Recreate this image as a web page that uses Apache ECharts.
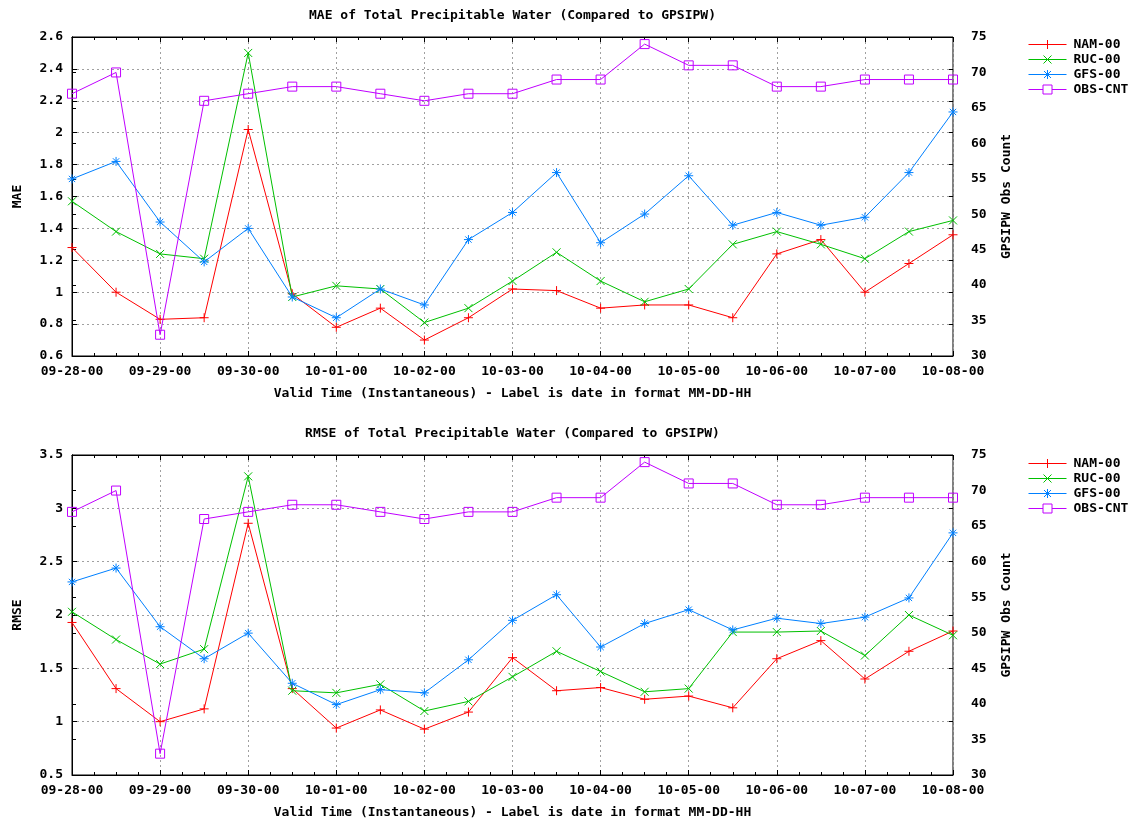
<!DOCTYPE html>
<html><head><meta charset="utf-8">
<script src="https://cdn.jsdelivr.net/npm/echarts@6/dist/echarts.min.js"></script>
<style>html,body{margin:0;padding:0;background:#fff}#c{width:1135px;height:823px}</style>
</head><body><div id="c"></div>
<script>
// ---- data ----
const times = ['09-28-00','09-28-12','09-29-00','09-29-12','09-30-00','09-30-12','10-01-00','10-01-12','10-02-00','10-02-12','10-03-00','10-03-12','10-04-00','10-04-12','10-05-00','10-05-12','10-06-00','10-06-12','10-07-00','10-07-12','10-08-00'];
const dayLabels = ['09-28-00','09-29-00','09-30-00','10-01-00','10-02-00','10-03-00','10-04-00','10-05-00','10-06-00','10-07-00','10-08-00'];
const seriesNames = ['NAM-00','RUC-00','GFS-00','OBS-CNT'];

const maeNAM = [1.28,1.00,0.83,0.84,2.02,0.99,0.78,0.90,0.70,0.84,1.02,1.01,0.90,0.92,0.92,0.84,1.24,1.33,1.00,1.18,1.36];
const maeRUC = [1.57,1.38,1.24,1.21,2.50,0.97,1.04,1.02,0.81,0.90,1.07,1.25,1.07,0.94,1.02,1.30,1.38,1.30,1.21,1.38,1.45];
const maeGFS = [1.71,1.82,1.44,1.19,1.40,0.97,0.84,1.02,0.92,1.33,1.50,1.75,1.31,1.49,1.73,1.42,1.50,1.42,1.47,1.75,2.13];
const obsCnt = [67,70,33,66,67,68,68,67,66,67,67,69,69,74,71,71,68,68,69,69,69];

const rmseNAM = [1.93,1.31,1.00,1.12,2.86,1.31,0.94,1.11,0.93,1.09,1.60,1.29,1.32,1.21,1.24,1.13,1.59,1.76,1.40,1.66,1.85];
const rmseRUC = [2.03,1.77,1.54,1.68,3.30,1.29,1.27,1.35,1.10,1.19,1.42,1.66,1.47,1.28,1.31,1.84,1.84,1.85,1.62,2.00,1.81];
const rmseGFS = [2.31,2.44,1.89,1.59,1.83,1.36,1.16,1.30,1.27,1.58,1.95,2.19,1.70,1.92,2.05,1.86,1.97,1.92,1.98,2.16,2.77];

const maeTitle = 'MAE of Total Precipitable Water (Compared to GPSIPW)';
const rmseTitle = 'RMSE of Total Precipitable Water (Compared to GPSIPW)';
const xName = 'Valid Time (Instantaneous) - Label is date in format MM-DD-HH';
const y2Name = 'GPSIPW Obs Count';

// ---- styles ----
const FONT = 'DejaVu Sans Mono';
const TXT = {fontFamily: FONT, fontWeight: 'bold', fontSize: 13, color: '#000'};
const colors = ['#ff0000', '#00c000', '#0080ff', '#c000ff'];
const symbols = [
  'path://M0,5L10,5M5,0L5,10',
  'path://M0,0L10,10M10,0L0,10',
  'path://M0,5L10,5M5,0L5,10M1.5,1.5L8.5,8.5M8.5,1.5L1.5,8.5',
  'path://M0,0L10,0L10,10L0,10Z'
];
const symSizes = [9, 8, 9, 9];
// legend samples: line with the marker at its middle (box 38 x 10)
const legendIcons = [
  'path://M0,5L38,5M19,0.5L19,9.5',
  'path://M0,5L38,5M15,1L23,9M23,1L15,9',
  'path://M0,5L38,5M19,0.5L19,9.5M15.5,1.5L22.5,8.5M22.5,1.5L15.5,8.5',
  'path://M0,5L14.5,5M23.5,5L38,5M14.5,0.5L23.5,0.5L23.5,9.5L14.5,9.5Z'
];

const panels = [
  {top: 37, height: 319, title: maeTitle, titleY: 15, yName: 'MAE', ymin: 0.6, ymax: 2.6, yint: 0.2, vals: [maeNAM, maeRUC, maeGFS], legTop: 38},
  {top: 455, height: 320, title: rmseTitle, titleY: 433, yName: 'RMSE', ymin: 0.5, ymax: 3.5, yint: 0.5, vals: [rmseNAM, rmseRUC, rmseGFS], legTop: 457}
];
const GL = 72, GW = 881;

const grid = [], xAxis = [], yAxis = [], series = [], legend = [], graphic = [];
const gridLine = {show: true, lineStyle: {color: '#a0a0a0', type: [2, 3], width: 1}};

panels.forEach((p, k) => {
  grid.push({left: GL, top: p.top, width: GW, height: p.height, containLabel: false, outerBoundsMode: 'none',
    show: true, borderColor: '#000', borderWidth: 1, backgroundColor: 'transparent'});
  const xBase = {type: 'value', gridIndex: k, min: 0, max: times.length - 1, interval: 2,
    axisLine: {show: true, lineStyle: {color: '#000', width: 1}},
    axisTick: {show: true, inside: true, length: 5, lineStyle: {color: '#000'}},
    minorTick: {show: true, splitNumber: 4, length: 3, lineStyle: {color: '#000'}},
    minorSplitLine: {show: false}};
  xAxis.push(Object.assign({}, xBase, {position: 'bottom',
    axisLabel: Object.assign({margin: 9, formatter: v => dayLabels[Math.round(v / 2)]}, TXT),
    splitLine: gridLine,
    name: xName, nameLocation: 'middle', nameGap: 31, nameTextStyle: TXT}));
  xAxis.push(Object.assign({}, xBase, {position: 'top', axisLabel: {show: false}, splitLine: {show: false}}));

  yAxis.push({type: 'value', gridIndex: k, position: 'left', min: p.ymin, max: p.ymax, interval: p.yint,
    axisLine: {show: true, lineStyle: {color: '#000'}},
    axisTick: {show: true, inside: true, length: 5, lineStyle: {color: '#000'}},
    axisLabel: Object.assign({margin: 9}, TXT),
    splitLine: gridLine,
    name: p.yName, nameLocation: 'middle', nameGap: 48, nameRotate: 90, nameTextStyle: TXT});
  yAxis.push({type: 'value', gridIndex: k, position: 'right', min: 30, max: 75, interval: 5,
    axisLine: {show: true, lineStyle: {color: '#000'}},
    axisTick: {show: true, inside: false, length: 4, lineStyle: {color: '#000'}},
    axisLabel: Object.assign({margin: 18}, TXT),
    splitLine: {show: false},
    name: y2Name, nameLocation: 'middle', nameGap: 47, nameRotate: 90, nameTextStyle: TXT});
  yAxis.push({type: 'value', gridIndex: k, position: 'right', min: p.ymin, max: p.ymax, interval: p.yint,
    axisLine: {show: false}, axisLabel: {show: false}, splitLine: {show: false},
    axisTick: {show: true, inside: true, length: 4, lineStyle: {color: '#000'}}});

  const allVals = p.vals.concat([obsCnt]);
  allVals.forEach((arr, s) => {
    series.push({
      type: 'line', name: seriesNames[s], xAxisIndex: 2 * k, yAxisIndex: s === 3 ? 3 * k + 1 : 3 * k,
      data: arr.map((v, i) => [i, v]),
      symbol: symbols[s], symbolSize: symSizes[s], showSymbol: true, showAllSymbol: true,
      lineStyle: {color: colors[s], width: 1},
      itemStyle: {color: 'transparent', borderColor: colors[s], borderWidth: 1},
      emphasis: {disabled: true}, silent: true, z: 2 + s
    });
  });

  legend.push({orient: 'vertical', left: 1028, top: p.legTop, padding: 0, itemWidth: 38, itemHeight: 11, itemGap: 2,
    data: seriesNames.map((n, s) => ({name: n, icon: legendIcons[s],
      itemStyle: {color: 'transparent', borderColor: colors[s], borderWidth: 1, opacity: 1}})),
    textStyle: Object.assign({lineHeight: 13, padding: [0, 0, 0, 2]}, TXT)});

  graphic.push({type: 'text', x: GL + GW / 2, y: p.titleY + 1,
    style: Object.assign({text: p.title, textAlign: 'center', textVerticalAlign: 'middle', align: 'center', verticalAlign: 'middle',
      font: 'bold 13px "' + FONT + '"', fill: '#000'})});
});

const chart = echarts.init(document.getElementById('c'), null, {renderer: 'canvas'});
chart.setOption({animation: false, backgroundColor: '#fff', grid, xAxis, yAxis, series, legend, graphic, tooltip: {show: false}});
</script>
</body></html>
